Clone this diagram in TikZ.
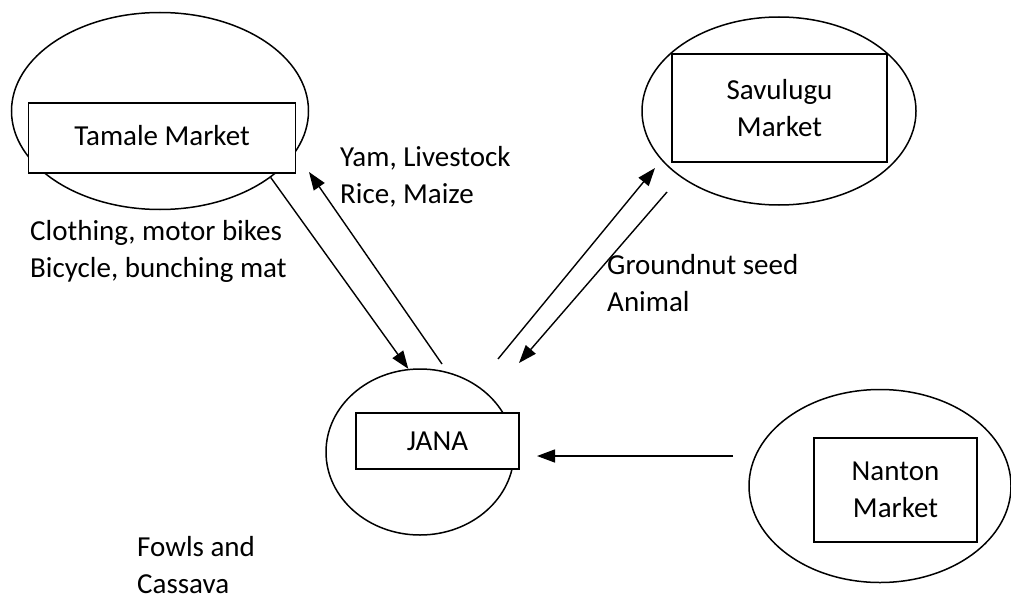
\documentclass[tikz,border=0pt]{standalone}
\usepackage{fontspec}
\setmainfont{Carlito}
\usetikzlibrary{arrows.meta,shapes.geometric,positioning}
\tikzset{
  market/.style={draw, ellipse, line width=1.5pt, inner sep=0pt},
  mbox/.style={draw, fill=white, line width=1.5pt, align=center, inner sep=0pt,
    font=\fontsize{29}{36.5}\selectfont},
  goods/.style={align=left, inner sep=0pt, anchor=base west,
    font=\fontsize{29}{36.5}\selectfont},
  trade/.style={-{Triangle[length=18pt,width=13pt]}, line width=1.4pt}
}
\begin{document}
\begin{tikzpicture}[x=1pt,y=-1pt]
  \useasboundingbox (0,0) rectangle (1011,599);
  % markets
  \node[market, minimum width=297pt, minimum height=197pt] (tamale) at (160,111) {};
  \node[market, minimum width=274pt, minimum height=188pt] (savulugu) at (779,111) {};
  \node[market, minimum width=188pt, minimum height=166pt] (jana) at (420,452) {};
  \node[market, minimum width=262pt, minimum height=193pt] (nanton) at (880,486) {};
  \node[mbox, minimum width=267pt, minimum height=70pt, text height=25pt, text depth=11pt] (tamalebox) at (162,138) {Tamale Market};
  \node[mbox, minimum width=215pt, minimum height=108pt] (savulugubox) at (779.5,108) {Savulugu\\Market};
  \node[mbox, minimum width=163pt, minimum height=56pt] (janabox) at (437.5,441) {JANA};
  \node[mbox, minimum width=163pt, minimum height=104pt] (nantonbox) at (895.5,490) {Nanton\\Market};
  % free ends
  \coordinate (jt) at (442,364);
  \coordinate (tj) at (309,172);
  \coordinate (js) at (498,359);
  \coordinate (sj) at (655,168);
  \coordinate (sv) at (667,192);
  \coordinate (vs) at (519,363);
  \coordinate (nj) at (733,456);
  \coordinate (jn) at (537,456);
  % flows
  \draw[trade] (tamale.-31) -- (jana.98);
  \draw[trade] (jt) -- (tj);
  \draw[trade] (js) -- (sj);
  \draw[trade] (sv) -- (vs);
  \draw[trade] (nj) -- (jn);
  % goods
  \node[goods] (yam) at (340,203.3) {Yam, Livestock\\Rice, Maize};
  \node[goods] (cloth) at (30,277) {Clothing, motor bikes\\Bicycle, bunching mat};
  \node[goods] (gnut) at (607,311) {Groundnut seed\\Animal};
  \node[goods] (fowl) at (137,593) {Fowls and\\Cassava};
\end{tikzpicture}
\end{document}
